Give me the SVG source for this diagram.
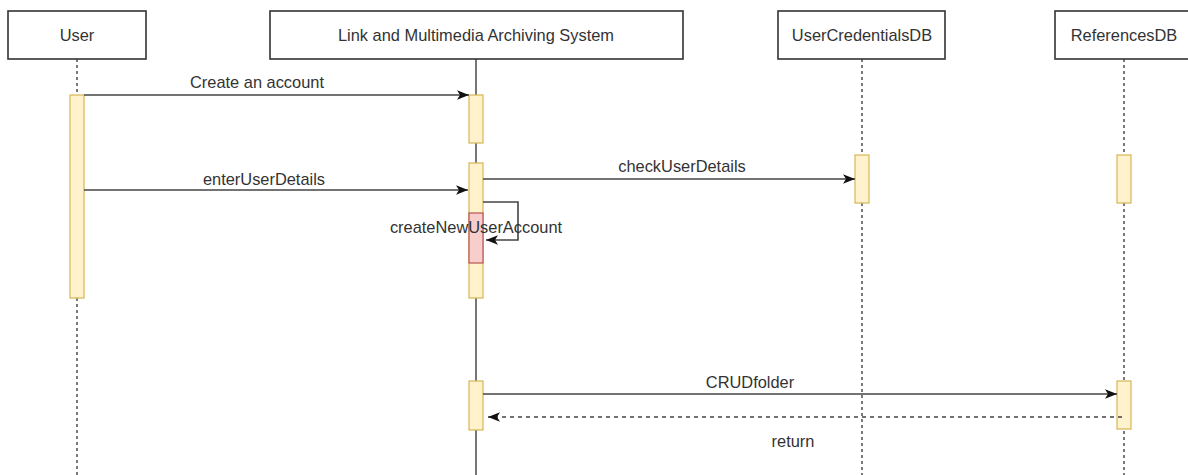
<svg xmlns="http://www.w3.org/2000/svg" width="1188" height="475" viewBox="0 0 1188 475">
<defs>
<marker id="arr" viewBox="0 0 10 10" refX="10" refY="5" markerWidth="12" markerHeight="12" markerUnits="userSpaceOnUse" orient="auto">
<path d="M0,1 L10,5 L0,9 L2.5,5 Z" fill="#111"/>
</marker>
</defs>
<style>
text{font-family:"Liberation Sans",Arial,sans-serif;font-size:16.4px;fill:#333;text-anchor:middle}
.box{fill:#fff;stroke:#333;stroke-width:1.6}
.life{stroke:#333;stroke-width:1.3;stroke-dasharray:3,3;fill:none}
.solid{stroke:#555;stroke-width:1.6;fill:none}
.act{fill:#fff2cc;stroke:#d6b656;stroke-width:1.2}
.actr{fill:#f8cecc;stroke:#b85450;stroke-width:1.2}
.msg{stroke:#444;stroke-width:1.6;fill:none;marker-end:url(#arr)}
.ret{stroke:#444;stroke-width:1.3;fill:none;stroke-dasharray:4,4;marker-end:url(#arr)}
</style>
<rect width="1188" height="475" fill="#fff"/>
<g id="lifelines">
<line class="life" x1="77" y1="59" x2="77" y2="95"/>
<line class="life" x1="77" y1="298" x2="77" y2="475"/>
<line class="solid" x1="476" y1="59" x2="476" y2="475"/>
<line class="life" x1="862" y1="59" x2="862" y2="475"/>
<line class="life" x1="1124" y1="59" x2="1124" y2="475"/>
</g>
<g id="user">
<rect class="box" x="8" y="11" width="138" height="48"/>
<text x="77" y="41">User</text>
<rect class="act" x="70" y="95" width="14" height="203"/>
</g>
<g id="system">
<rect class="box" x="270" y="11" width="413" height="48"/>
<text x="476" y="41">Link and Multimedia Archiving System</text>
<rect class="act" x="469" y="95" width="14" height="48"/>
<rect class="act" x="469" y="163" width="14" height="135"/>
<rect class="actr" x="469" y="213" width="14" height="50"/>
<rect class="act" x="469" y="381" width="14" height="49"/>
</g>
<g id="usercredentialsdb">
<rect class="box" x="778" y="11" width="167" height="48"/>
<text x="862" y="41">UserCredentialsDB</text>
<rect class="act" x="855" y="155" width="14" height="48"/>
</g>
<g id="referencesdb">
<rect class="box" x="1055" y="11" width="136" height="48"/>
<text x="1124" y="41">ReferencesDB</text>
<rect class="act" x="1117" y="155" width="14" height="48"/>
<rect class="act" x="1117" y="381" width="14" height="48"/>
</g>
<g id="connectors">
<line class="msg" x1="84" y1="95" x2="469" y2="95"/>
<text x="257" y="88">Create an account</text>
<line class="msg" x1="84" y1="190" x2="468" y2="190"/>
<text x="264" y="185">enterUserDetails</text>
<line class="msg" x1="483" y1="179" x2="855" y2="179"/>
<text x="682" y="172">checkUserDetails</text>
<path class="msg" d="M483,202 H518 V240 H486"/>
<text x="476" y="233">createNewUserAccount</text>
<line class="msg" x1="483" y1="394" x2="1117" y2="394"/>
<text x="750" y="388">CRUDfolder</text>
<line class="ret" x1="1122" y1="417" x2="488" y2="417"/>
<text x="793" y="447">return</text>
</g>
</svg>
